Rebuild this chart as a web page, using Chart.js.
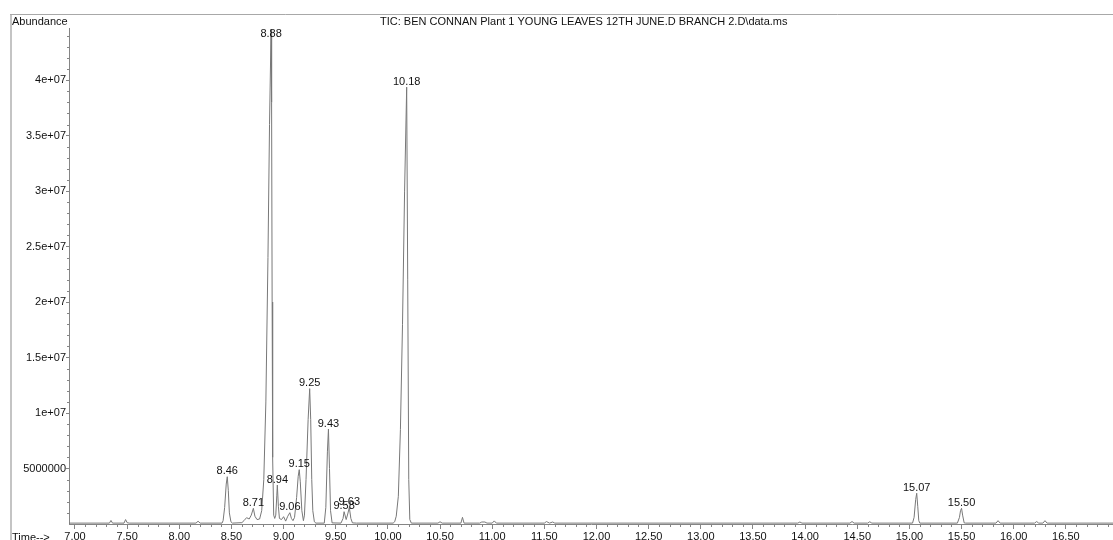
<!DOCTYPE html>
<html>
<head>
<meta charset="utf-8">
<title>TIC chromatogram</title>
<script src="https://cdn.jsdelivr.net/npm/chart.js@4.4.1/dist/chart.umd.min.js"></script>
<style>
  html, body { margin: 0; padding: 0; background: #ffffff; }
  #wrap { width: 1113px; height: 540px; }
</style>
</head>
<body>
<div id="wrap"><canvas id="tic" width="1113" height="540"></canvas></div>
<script>
// Labelled peaks: retention time (min) and apex abundance
const peakTimes = [8.46, 8.71, 8.88, 8.94, 9.06, 9.15, 9.25, 9.43, 9.58, 9.63, 10.18, 15.07, 15.50];
const peakAbundance = [4.26e6, 1.41e6, 44.6e6, 3.51e6, 1.02e6, 4.9e6, 12.2e6, 8.56e6, 1.11e6, 1.49e6, 39.37e6, 2.77e6, 1.41e6];

// Remaining trace points: [time (min), abundance]
const tracePoints = [
  [6.9425, 8e4], [7.00, 8e4], [7.33, 8e4], [7.345, 3.2e5], [7.36, 8e4], [7.47, 8e4], [7.485, 4.0e5],
  [7.50, 1.2e5], [7.52, 8e4], [8.16, 8e4], [8.18, 2.5e5], [8.20, 8e4], [8.41, 8e4],
  [8.42, 3e5], [8.435, 1.5e6], [8.45, 3.6e6], [8.47, 3.0e6], [8.48, 1.0e6], [8.495, 2e5], [8.51, 8e4],
  [8.60, 1.2e5], [8.62, 3e5], [8.645, 5.7e5], [8.67, 4.5e5], [8.69, 8e5], [8.725, 7e5], [8.745, 4e5],
  [8.77, 4.5e5], [8.79, 1.2e6], [8.81, 4e6], [8.83, 11e6], [8.85, 24e6], [8.865, 36e6], [8.885, 38e6],
  [8.89, 20e6], [8.895, 6e6], [8.905, 8e5], [8.915, 5e5], [8.925, 8e5], [8.935, 2.6e6], [8.95, 1.6e6],
  [8.96, 5e5], [8.98, 4e5], [9.00, 6.6e5], [9.02, 2.6e5], [9.04, 7e5], [9.075, 5e5], [9.09, 3e5],
  [9.105, 6e5], [9.125, 2.4e6], [9.14, 4.3e6], [9.16, 3.8e6], [9.175, 1.2e6], [9.19, 3e5], [9.20, 8e5],
  [9.215, 4e6], [9.235, 9.4e6], [9.26, 9.4e6], [9.27, 4e6], [9.28, 1.2e6], [9.295, 2e5], [9.31, 8e4],
  [9.39, 8e4], [9.405, 1.5e6], [9.42, 6.5e6], [9.44, 5e6], [9.45, 1.2e6], [9.465, 1e5], [9.55, 8e4],
  [9.57, 5e5], [9.60, 4e5], [9.615, 9e5], [9.645, 5e5], [9.66, 1e5], [9.70, 8e4], [10.05, 8e4],
  [10.065, 2e5], [10.08, 7e5], [10.10, 2.5e6], [10.12, 8.5e6], [10.14, 18e6], [10.16, 30e6],
  [10.19, 22e6], [10.20, 4e6], [10.21, 4e5], [10.225, 8e4], [10.48, 8e4], [10.50, 2e5], [10.52, 8e4],
  [10.70, 8e4], [10.715, 6e5], [10.73, 8e4], [10.88, 8e4], [10.90, 1.8e5], [10.93, 1.8e5], [10.95, 8e4],
  [11.00, 8e4], [11.02, 2.8e5], [11.04, 8e4], [11.50, 8e4], [11.52, 2.2e5], [11.55, 8e4], [11.58, 1.8e5],
  [11.60, 8e4], [13.93, 8e4], [13.95, 1.8e5], [13.97, 8e4], [14.43, 8e4], [14.45, 2.2e5], [14.47, 8e4],
  [14.60, 8e4], [14.62, 2e5], [14.64, 8e4], [15.03, 8e4], [15.045, 6e5], [15.06, 2.2e6], [15.08, 1.6e6],
  [15.09, 3e5], [15.10, 8e4], [15.46, 8e4], [15.48, 6e5], [15.49, 1.2e6], [15.51, 8e5], [15.525, 1e5],
  [15.54, 8e4], [15.83, 8e4], [15.85, 3e5], [15.87, 8e4], [16.20, 8e4], [16.22, 2.2e5], [16.24, 8e4],
  [16.28, 8e4], [16.30, 3e5], [16.32, 8e4], [16.952, 8e4]
];

// Labelled axis ticks
const timeTicks = [7.0, 7.5, 8.0, 8.5, 9.0, 9.5, 10.0, 10.5, 11.0, 11.5, 12.0, 12.5, 13.0, 13.5, 14.0, 14.5, 15.0, 15.5, 16.0, 16.5];
const abundanceTicks = [5e6, 1e7, 1.5e7, 2e7, 2.5e7, 3e7, 3.5e7, 4e7];

const titleText = 'TIC: BEN CONNAN Plant 1 YOUNG LEAVES 12TH JUNE.D BRANCH 2.D\\data.ms';
const yAxisTitle = 'Abundance';
const xAxisTitle = 'Time-->';

const FONT = '"Liberation Sans", Arial, sans-serif';
const AXIS = '#858585';
const TRACE = '#787878';

// Full trace = apex points + shoulder/baseline points, in time order
const trace = tracePoints.map(p => ({ x: p[0], y: p[1] }))
  .concat(peakTimes.map((t, i) => ({ x: t, y: peakAbundance[i] })))
  .sort((a, b) => a.x - b.x);

function fmtAbundance(v) {
  if (v === 0) return '';
  if (v < 1e7) return String(Math.round(v));
  return (Math.round(v / 1e6) / 10) + 'e+07';
}

const decorations = {
  id: 'decorations',
  beforeDraw(chart) {
    const ctx = chart.ctx;
    ctx.save();
    // outer frame
    ctx.strokeStyle = '#c4c4c4';
    ctx.lineWidth = 2;
    ctx.beginPath(); ctx.moveTo(11, 14); ctx.lineTo(11, 540); ctx.stroke();
    ctx.strokeStyle = '#a8a8a8';
    ctx.lineWidth = 1;
    ctx.beginPath(); ctx.moveTo(10, 14.5); ctx.lineTo(1113, 14.5); ctx.stroke();
    // texts
    ctx.fillStyle = '#111';
    ctx.font = '11px ' + FONT;
    ctx.textAlign = 'left';
    ctx.textBaseline = 'alphabetic';
    ctx.fillText(titleText, 380, 25);
    ctx.fillText(yAxisTitle, 12, 25);
    ctx.fillText(xAxisTitle, 12, 541);
    ctx.restore();
  },
  afterDraw(chart) {
    const ctx = chart.ctx;
    const xs = chart.scales.x, ys = chart.scales.y;
    const area = chart.chartArea;
    ctx.save();
    ctx.strokeStyle = AXIS;
    ctx.lineWidth = 1;
    ctx.beginPath();
    // minor ticks on time axis every 0.1 min
    for (let k = 70; k <= 169; k++) {
      const t = k / 10;
      if (k % 5 === 0) continue;
      const px = Math.round(xs.getPixelForValue(t)) + 0.5;
      if (px < area.left || px > area.right) continue;
      ctx.moveTo(px, area.bottom); ctx.lineTo(px, area.bottom + 3);
    }
    // minor ticks on abundance axis every 1e6
    for (let k = 1; k <= 44; k++) {
      if (k % 5 === 0) continue;
      const py = Math.round(ys.getPixelForValue(k * 1e6)) + 0.5;
      ctx.moveTo(area.left - 2, py); ctx.lineTo(area.left, py);
    }
    ctx.stroke();
    ctx.restore();
  },
  afterDatasetsDraw(chart) {
    const ctx = chart.ctx;
    const xs = chart.scales.x, ys = chart.scales.y;
    ctx.save();
    ctx.fillStyle = '#111';
    ctx.font = '11px ' + FONT;
    ctx.textAlign = 'center';
    ctx.textBaseline = 'alphabetic';
    peakTimes.forEach((t, i) => {
      const px = xs.getPixelForValue(t);
      let py = ys.getPixelForValue(peakAbundance[i]) - 2.5;
      if (py < 37) py = 37;
      ctx.fillText(t.toFixed(2), px, py);
    });
    ctx.restore();
  }
};

new Chart(document.getElementById('tic'), {
  type: 'line',
  data: {
    datasets: [{
      data: trace,
      borderColor: TRACE,
      borderWidth: 1,
      pointRadius: 0,
      tension: 0,
      fill: false
    }]
  },
  options: {
    responsive: false,
    animation: false,
    devicePixelRatio: 1,
    layout: { padding: { top: 28, left: 0, right: 0, bottom: 0 } },
    plugins: {
      legend: { display: false },
      tooltip: { enabled: false },
      title: { display: false }
    },
    scales: {
      x: {
        type: 'linear',
        min: 6.9425,
        max: 16.952,
        border: { display: true, color: AXIS, width: 1 },
        grid: { drawOnChartArea: false, drawTicks: true, tickLength: 5, color: AXIS },
        afterBuildTicks: s => { s.ticks = timeTicks.map(v => ({ value: v })); },
        ticks: {
          maxRotation: 0,
          autoSkip: false,
          padding: 1,
          color: '#111',
          font: { family: FONT, size: 11 },
          callback: v => v.toFixed(2)
        },
        afterFit: s => { s.height = 16; }
      },
      y: {
        type: 'linear',
        min: 0,
        max: 44.7e6,
        border: { display: true, color: AXIS, width: 1 },
        grid: { drawOnChartArea: false, drawTicks: true, tickLength: 3, color: AXIS },
        afterBuildTicks: s => { s.ticks = abundanceTicks.map(v => ({ value: v })); },
        ticks: {
          autoSkip: false,
          padding: 0,
          color: '#111',
          font: { family: FONT, size: 11 },
          callback: v => fmtAbundance(v)
        },
        afterFit: s => { s.width = 69; }
      }
    }
  },
  plugins: [decorations]
});
</script>
</body>
</html>
